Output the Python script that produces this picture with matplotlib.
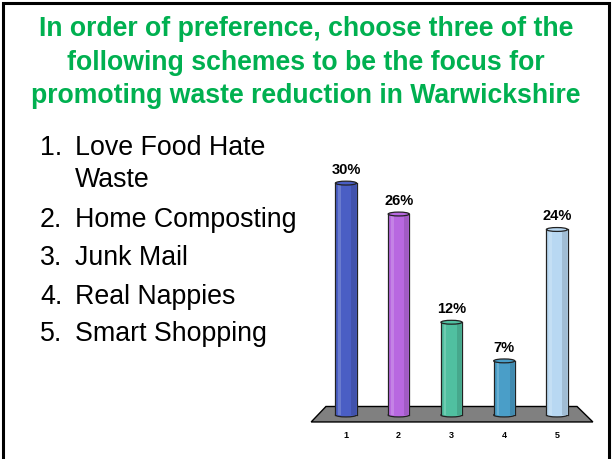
import matplotlib
matplotlib.use("Agg")
import matplotlib.pyplot as plt
from matplotlib.patches import Ellipse, Polygon, Rectangle
import numpy as np

# ---- data ----
categories = ["1", "2", "3", "4", "5"]
values = [30, 26, 12, 7, 24]
value_labels = ["30%", "26%", "12%", "7%", "24%"]
bar_colors = ["#4a5ec4", "#b868e0", "#50c0a0", "#4a9ec8", "#b8d8f2"]
title_lines = ["In order of preference, choose three of the",
               "following schemes to be the focus for",
               "promoting waste reduction in Warwickshire"]
list_numbers = ["1.", "", "2.", "3.", "4.", "5."]
list_texts = ["Love Food Hate", "Waste", "Home Composting", "Junk Mail",
              "Real Nappies", "Smart Shopping"]

W, H = 612, 459
fig = plt.figure(figsize=(W / 100, H / 100), dpi=100)
fig.patch.set_facecolor("white")

def fx(px):
    return px / W

def fy(py):
    return 1 - py / H

# slide border
fig.patches.append(Rectangle((fx(3), fy(470)), fx(606), (467) / H,
                             transform=fig.transFigure, fill=False,
                             edgecolor="black", linewidth=2.2, zorder=0))

# title
green = "#00b050"
for i, line in enumerate(title_lines):
    fig.text(0.5, fy(29 + i * 33.5), line, ha="center", va="center",
             fontsize=19.2, fontweight="bold", color=green,
             family="Liberation Sans")

# list
ys = [148, 180, 220, 258, 297, 334]
for num, txt, y in zip(list_numbers, list_texts, ys):
    if num:
        fig.text(fx(40), fy(y), num, ha="left", va="center", fontsize=19.3,
                 family="Liberation Sans", color="black")
    fig.text(fx(75), fy(y), txt, ha="left", va="center", fontsize=19.3,
             family="Liberation Sans", color="black")

# chart axes
x0_px, ppu = 346, 52.75  # pixel position of category 1, px per category
xmin, xmax = 0.3, 5.7
ymin, ymax = -2, 34
ypp = 7.73  # px per percent
y0_px = 415
left_px = x0_px + (xmin - 1) * ppu
right_px = x0_px + (xmax - 1) * ppu
bot_px = y0_px - ymin * ypp
top_px = y0_px - ymax * ypp
ax = fig.add_axes([fx(left_px), fy(bot_px), (right_px - left_px) / W,
                   (bot_px - top_px) / H])
ax.set_xlim(xmin, xmax)
ax.set_ylim(ymin, ymax)
ax.axis("off")

n = len(categories)
xs = np.arange(1, n + 1)

# floor
floor = Polygon([(0.34, -0.9), (n + 0.68, -0.9), (n + 0.38, 1.1), (0.62, 1.1)],
                closed=True, facecolor="#808080", edgecolor="black",
                linewidth=1.0, zorder=1)
ax.add_patch(floor)

bw = 0.4
eh = 0.5
for x, v, c, lab, cat in zip(xs, values, bar_colors, value_labels, categories):
    ax.bar(x, v, width=bw, bottom=0, color=c, edgecolor="none", zorder=3)
    # subtle cylinder shading
    ax.bar(x - bw * 0.3, v, width=bw * 0.12, bottom=0, color="white",
           alpha=0.18, edgecolor="none", zorder=3.1)
    ax.bar(x + bw * 0.36, v, width=bw * 0.2, bottom=0, color="black",
           alpha=0.12, edgecolor="none", zorder=3.1)
    ax.plot([x - bw / 2, x - bw / 2], [0, v], color="#222222", lw=0.9, zorder=4)
    ax.plot([x + bw / 2, x + bw / 2], [0, v], color="#222222", lw=0.9, zorder=4)
    ax.add_patch(Ellipse((x, 0), bw, eh, facecolor=c, edgecolor="#222222",
                         lw=0.9, zorder=2.9))
    ax.add_patch(Ellipse((x, v), bw, eh, facecolor=c, edgecolor="#222222",
                         lw=0.9, zorder=4.5))
    ax.text(x, v + 1.7, lab, ha="center", va="center", fontsize=10.5,
            fontweight="bold", family="Liberation Sans", color="black")
    ax.text(x, -2.7, cat, ha="center", va="center",
            fontsize=6.5, fontweight="bold", family="Liberation Sans",
            color="black", clip_on=False)

fig.savefig("out.png", dpi=100, facecolor="white")
